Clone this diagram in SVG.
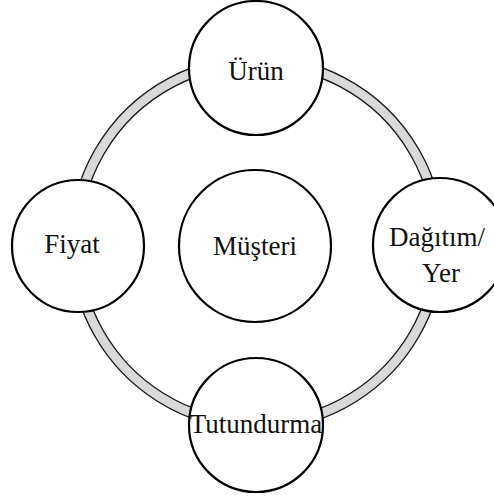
<svg xmlns="http://www.w3.org/2000/svg" width="494" height="499" viewBox="0 0 494 499">
<style>
.node{fill:#fff;stroke:#000;stroke-width:2.2}
.lbl{font-family:"Liberation Serif","Times New Roman",serif;font-size:27px;fill:#111;text-anchor:middle}
.ring{fill:#d9d9d9;stroke:#1a1a1a;stroke-width:1.4;fill-rule:evenodd}
</style>
<rect width="494" height="499" fill="#fff"/>
<g id="connectors">
<path class="ring" d="M257,56 A187,187 0 1,1 256.99,56 Z M257,66 A177,177 0 1,0 257.01,66 Z"/>
</g>
<g id="musteri"><circle class="node" cx="255" cy="246" r="76"/><text class="lbl" x="255" y="255">Müşteri</text></g>
<g id="urun"><circle class="node" cx="256" cy="68" r="67"/><text class="lbl" x="256" y="80">Ürün</text></g>
<g id="fiyat"><circle class="node" cx="78" cy="246" r="66"/><text class="lbl" x="72" y="253">Fiyat</text></g>
<g id="dagitim"><circle class="node" cx="440" cy="245" r="67"/><text class="lbl" x="437" y="246">Dağıtım/</text><text class="lbl" x="441" y="282">Yer</text></g>
<g id="tutundurma"><circle class="node" cx="256" cy="425" r="67"/><text class="lbl" x="256" y="433">Tutundurma</text></g>
</svg>
